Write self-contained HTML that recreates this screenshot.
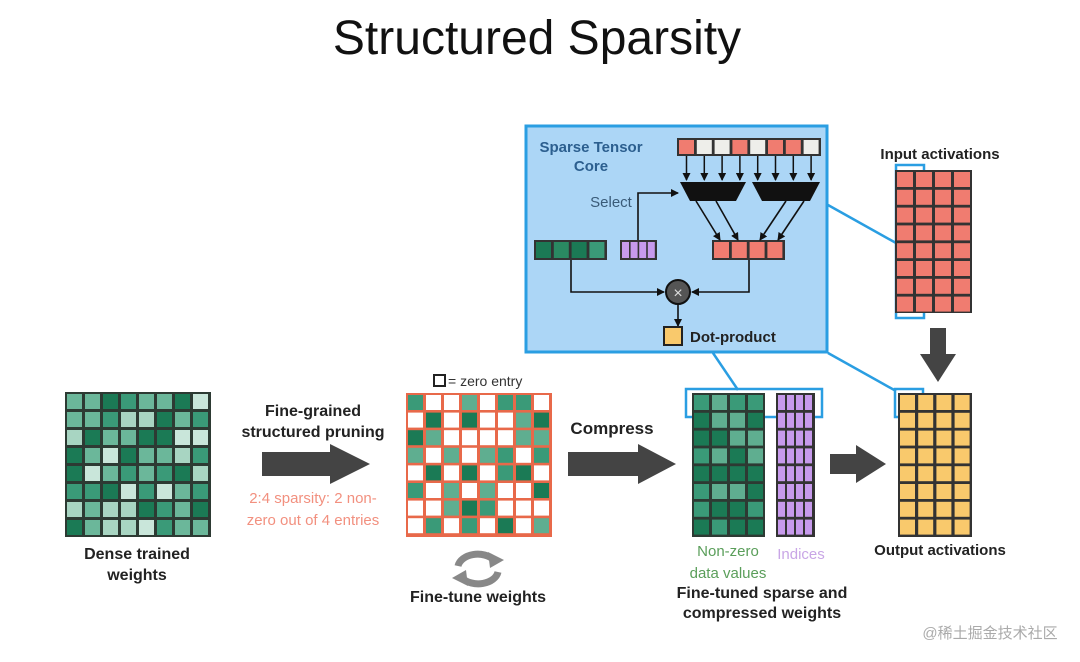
<!DOCTYPE html>
<html><head><meta charset="utf-8"><style>
html,body{margin:0;padding:0;background:#fff;width:1080px;height:662px;overflow:hidden}
svg{display:block}
text{font-family:"Liberation Sans","Noto Sans CJK SC",sans-serif}
</style></head><body>
<svg id="s" width="1080" height="662" xmlns="http://www.w3.org/2000/svg">
<defs>
<marker id="ah" markerWidth="8" markerHeight="8" refX="7" refY="4" orient="auto" markerUnits="userSpaceOnUse"><path d="M0,0 L8,4 L0,8 z" fill="#111"/></marker>
</defs>
<text x="537" y="54" font-size="48" text-anchor="middle" fill="#111">Structured Sparsity</text>

<!-- blue box -->
<rect x="526" y="126" width="301" height="226" fill="#acd6f6" stroke="#2a9ee2" stroke-width="3"/>
<text x="591" y="152" font-size="15" font-weight="bold" fill="#2c5f8f" text-anchor="middle">Sparse Tensor</text>
<text x="591" y="171" font-size="15" font-weight="bold" fill="#2c5f8f" text-anchor="middle">Core</text>
<text x="611" y="207" font-size="15" fill="#3a5b78" text-anchor="middle">Select</text>
<!-- top bar -->
<rect x="677" y="138" width="144" height="18" fill="#333"/>
<rect x="679" y="140" width="15" height="14" fill="#f07c70"/>
<rect x="696.8" y="140" width="15" height="14" fill="#eeeeea"/>
<rect x="714.6" y="140" width="15" height="14" fill="#eeeeea"/>
<rect x="732.4" y="140" width="15" height="14" fill="#f07c70"/>
<rect x="750.2" y="140" width="15" height="14" fill="#eeeeea"/>
<rect x="768" y="140" width="15" height="14" fill="#f07c70"/>
<rect x="785.8" y="140" width="15" height="14" fill="#f07c70"/>
<rect x="803.6" y="140" width="15" height="14" fill="#eeeeea"/>
<g stroke="#111" stroke-width="1.5" fill="none">
<path d="M686.5,156 V180" marker-end="url(#ah)"/>
<path d="M704.3,156 V180" marker-end="url(#ah)"/>
<path d="M722.1,156 V180" marker-end="url(#ah)"/>
<path d="M739.9,156 V180" marker-end="url(#ah)"/>
<path d="M757.7,156 V180" marker-end="url(#ah)"/>
<path d="M775.5,156 V180" marker-end="url(#ah)"/>
<path d="M793.3,156 V180" marker-end="url(#ah)"/>
<path d="M811.1,156 V180" marker-end="url(#ah)"/>
</g>
<!-- bars -->
<rect x="534" y="240" width="73" height="20" fill="#333"/>
<rect x="536" y="242" width="15" height="16" fill="#1b7a55"/>
<rect x="553.8" y="242" width="15" height="16" fill="#2a8a62"/>
<rect x="571.6" y="242" width="15" height="16" fill="#1b7a55"/>
<rect x="589.4" y="242" width="15" height="16" fill="#3a9a78"/>
<rect x="620" y="240" width="37" height="20" fill="#333"/>
<rect x="622" y="242" width="7" height="16" fill="#c79aec"/>
<rect x="630.6" y="242" width="7" height="16" fill="#c79aec"/>
<rect x="639.2" y="242" width="7" height="16" fill="#c79aec"/>
<rect x="647.8" y="242" width="7" height="16" fill="#c79aec"/>
<rect x="712" y="240" width="73" height="20" fill="#333"/>
<rect x="714" y="242" width="15" height="16" fill="#f07c70"/>
<rect x="731.8" y="242" width="15" height="16" fill="#f07c70"/>
<rect x="749.6" y="242" width="15" height="16" fill="#f07c70"/>
<rect x="767.4" y="242" width="15" height="16" fill="#f07c70"/>
<!-- muxes -->
<polygon points="680,182 746,182 736,201 690,201" fill="#111"/>
<polygon points="752,182 820,182 810,201 762,201" fill="#111"/>
<g stroke="#111" stroke-width="1.6" fill="none">
<path d="M638,240 V193 H678" marker-end="url(#ah)"/>
<path d="M696,201 L720,240" marker-end="url(#ah)"/>
<path d="M716,201 L738,240" marker-end="url(#ah)"/>
<path d="M786,201 L760,240" marker-end="url(#ah)"/>
<path d="M804,201 L778,240" marker-end="url(#ah)"/>
<path d="M571,260 V292 H664" marker-end="url(#ah)"/>
<path d="M749,260 V292 H692" marker-end="url(#ah)"/>
<path d="M678,304 V326" marker-end="url(#ah)"/>
</g>
<circle cx="678" cy="292" r="12" fill="#555" stroke="#111" stroke-width="2"/>
<text x="678" y="298" font-size="16" fill="#ddd" text-anchor="middle">×</text>
<rect x="664" y="327" width="18" height="18" fill="#f9c96c" stroke="#222" stroke-width="2"/>
<text x="690" y="342" font-size="15" font-weight="bold" fill="#222">Dot-product</text>

<!-- connector lines -->
<g stroke="#2a9ee2" stroke-width="2.5" fill="none">
<line x1="828" y1="205" x2="896" y2="243"/>
<line x1="828" y1="353" x2="896" y2="391"/>
<line x1="713" y1="353" x2="738" y2="390"/>
<rect x="686" y="389" width="136" height="28"/>
<rect x="896" y="165" width="28" height="153"/>
<rect x="895" y="389" width="28" height="28"/>
</g>

<g id="grids"></g>

<!-- arrows -->
<polygon points="262,452 330,452 330,444 370,464 330,484 330,476 262,476" fill="#444"/>
<polygon points="568,452 638,452 638,444 676,464 638,484 638,476 568,476" fill="#444"/>
<polygon points="830,454 856,454 856,445 886,464 856,483 856,474 830,474" fill="#444"/>
<polygon points="930,328 946,328 946,354 956,354 938,382 920,354 930,354" fill="#444"/>

<text x="313" y="416" font-size="16" font-weight="bold" fill="#222" text-anchor="middle">Fine-grained</text>
<text x="313" y="437" font-size="16" font-weight="bold" fill="#222" text-anchor="middle">structured pruning</text>
<text x="313" y="503" font-size="15" fill="#f2907f" text-anchor="middle">2:4 sparsity: 2 non-</text>
<text x="313" y="525" font-size="15" fill="#f2907f" text-anchor="middle">zero out of 4 entries</text>
<text x="137" y="559" font-size="16" font-weight="bold" fill="#222" text-anchor="middle">Dense trained</text>
<text x="137" y="580" font-size="16" font-weight="bold" fill="#222" text-anchor="middle">weights</text>
<rect x="434" y="375" width="11" height="11" fill="#fff" stroke="#222" stroke-width="2"/>
<text x="448" y="386" font-size="14" fill="#333">= zero entry</text>
<!-- recycle -->
<g fill="none" stroke="#888" stroke-width="7">
<path d="M458,566 A20,14 0 0 1 494,560"/>
<path d="M498,572 A20,14 0 0 1 462,578"/>
</g>
<polygon points="488,552 504,560 490,568" fill="#888"/>
<polygon points="468,586 452,578 466,570" fill="#888"/>
<text x="478" y="602" font-size="16" font-weight="bold" fill="#222" text-anchor="middle">Fine-tune weights</text>
<text x="612" y="434" font-size="17" font-weight="bold" fill="#222" text-anchor="middle">Compress</text>
<text x="728" y="556" font-size="15" fill="#5a9e5a" text-anchor="middle">Non-zero</text>
<text x="728" y="578" font-size="15" fill="#5a9e5a" text-anchor="middle">data values</text>
<text x="801" y="559" font-size="15" fill="#c9a6e6" text-anchor="middle">Indices</text>
<text x="762" y="598" font-size="16" font-weight="bold" fill="#222" text-anchor="middle">Fine-tuned sparse and</text>
<text x="762" y="618" font-size="16" font-weight="bold" fill="#222" text-anchor="middle">compressed weights</text>
<text x="940" y="555" font-size="15" font-weight="bold" fill="#222" text-anchor="middle">Output activations</text>
<text x="940" y="159" font-size="15" font-weight="bold" fill="#222" text-anchor="middle">Input activations</text>
<text x="990" y="638" font-size="15" fill="#aaa" text-anchor="middle">@稀土掘金技术社区</text>
</svg>
<script>
var NS="http://www.w3.org/2000/svg";
function R(g,x,y,w,h,f){var r=document.createElementNS(NS,"rect");r.setAttribute("x",x);r.setAttribute("y",y);r.setAttribute("width",w);r.setAttribute("height",h);r.setAttribute("fill",f);g.appendChild(r);}
var G=document.getElementById("grids");
var sh=["#1b7a55","#3a9a78","#6bb79a","#a8d5c2","#c9e6da"];
var seed=7;function rnd(){seed=(seed*9301+49297)%233280;return seed/233280;}
R(G,65,392,146,145,"#2d3a33");
for(var r=0;r<8;r++)for(var c=0;c<8;c++)R(G,67+c*18,394+r*18,15,15,sh[Math.floor(rnd()*5)]);
var pat=["10010110","01010011","11000011","10101101","01010110","10101001","00111000","01010101"];
R(G,406,393,146,144,"#e8694a");
var gs=["#1b7a55","#3a9a78","#5fae90"];
for(r=0;r<8;r++)for(c=0;c<8;c++){R(G,408+c*18,395+r*17.6,15,15,pat[r][c]=="1"?gs[Math.floor(rnd()*3)]:"#fff");}
R(G,692,393,73,144,"#2d3a33");
for(r=0;r<8;r++)for(c=0;c<4;c++)R(G,694+c*18,395+r*17.8,15,15,gs[Math.floor(rnd()*3)]);
R(G,776,393,39,144,"#333");
for(r=0;r<8;r++)for(c=0;c<4;c++)R(G,778+c*9,395+r*17.8,7,15,"#c79aec");
R(G,895,170,77,143,"#333");
for(r=0;r<8;r++)for(c=0;c<4;c++)R(G,897+c*19,172+r*17.8,16,15,"#f07c70");
R(G,898,393,74,144,"#333");
for(r=0;r<8;r++)for(c=0;c<4;c++)R(G,900+c*18.2,395+r*17.8,15,15,"#f9c96c");
</script>
</body></html>
